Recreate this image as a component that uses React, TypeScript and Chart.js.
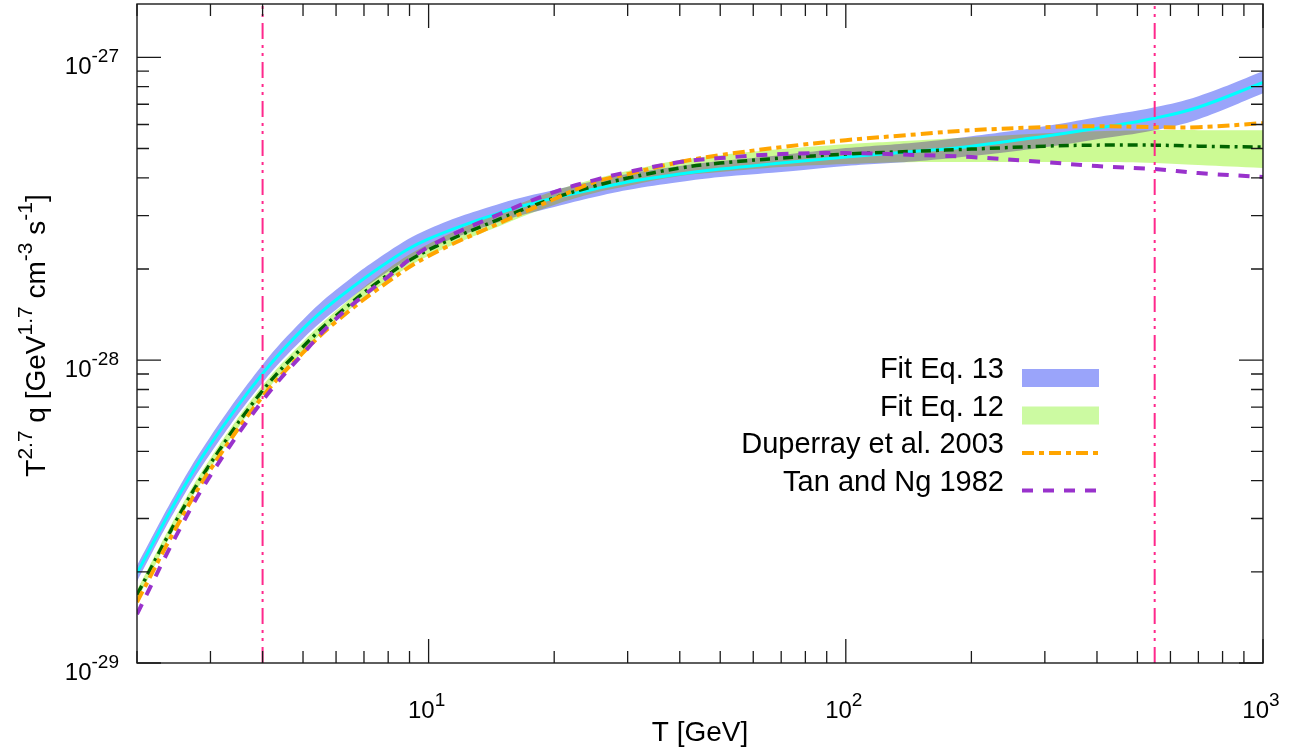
import React, { useEffect, useRef } from "react";
import { Chart, registerables } from "chart.js";

// ---------------- data (values in units of 1e-29) ----------------
const UNIT = 1e-29;
const T_GEV = [2, 2.5, 3, 4, 5, 6, 8, 10, 15, 20, 25, 30, 40, 50, 70, 100, 150, 200, 300, 400, 550, 700, 1000];

const eq13 = [1.98, 3.5, 5.27, 9.03, 12.69, 15.83, 21.15, 25.14, 30.85, 34.31, 36.73, 38.74, 41.16, 42.75, 44.74, 46.83, 49.01, 50.9, 54.92, 58.35, 62.95, 68.43, 82.72];
const eq13Hi = [2.1, 3.72, 5.6, 9.66, 13.59, 17.07, 22.82, 27.12, 33.03, 36.46, 39.03, 41.16, 43.74, 45.43, 47.54, 50.14, 52.47, 54.92, 59.24, 63.43, 68.43, 74.39, 89.92];
const eq13Lo = [1.86, 3.29, 4.92, 8.43, 11.77, 14.67, 19.61, 23.3, 28.82, 32.05, 34.57, 36.46, 38.74, 40.24, 41.79, 43.74, 45.43, 47.19, 50.52, 53.68, 57.47, 62.48, 76.1];

const eq12 = [1.68, 3.0, 4.56, 7.93, 11.07, 14.02, 19.17, 23.13, 29.48, 34.31, 37.58, 39.93, 43.08, 44.74, 46.48, 47.91, 49.01, 49.76, 50.9, 51.29, 51.29, 50.9, 50.52];
const eq12Hi = [1.74, 3.12, 4.74, 8.24, 11.51, 14.56, 20.05, 24.2, 31.09, 36.18, 39.63, 42.11, 45.78, 47.54, 49.76, 51.68, 53.27, 54.5, 56.18, 57.04, 57.47, 57.47, 57.47];
const eq12Lo = [1.61, 2.89, 4.39, 7.64, 10.67, 13.49, 18.31, 22.1, 27.96, 32.54, 35.64, 37.58, 40.54, 41.79, 43.41, 44.41, 45.09, 45.09, 45.09, 45.09, 44.74, 44.07, 43.08];

const duperray = [1.59, 2.85, 4.36, 7.58, 10.59, 13.4, 18.17, 22.1, 28.6, 34.05, 38.74, 41.16, 45.09, 47.54, 50.52, 53.27, 55.76, 57.47, 58.8, 59.24, 58.8, 58.8, 60.61];
const tanNg = [1.45, 2.68, 4.16, 7.35, 10.51, 13.7, 18.88, 23.66, 30.62, 35.91, 39.33, 41.79, 45.09, 46.48, 47.91, 48.27, 47.54, 46.83, 45.09, 43.74, 42.75, 41.48, 40.24];

const vLines = [4, 550];

const X_MIN = 2;
const X_MAX = 1000;
const Y_MIN = 1e-29;
const Y_MAX = 1.5e-27;

const xMajorTicks = [10, 100, 1000];
const xMinorTicks = [2, 3, 4, 5, 6, 7, 8, 9, 20, 30, 40, 50, 60, 70, 80, 90, 200, 300, 400, 500, 600, 700, 800, 900];
const yMajorTicks = [1e-29, 1e-28, 1e-27];
const yMinorTicks = [2e-29, 3e-29, 4e-29, 5e-29, 6e-29, 7e-29, 8e-29, 9e-29, 2e-28, 3e-28, 4e-28, 5e-28, 6e-28, 7e-28, 8e-28, 9e-28];
const xLabelValues = [10, 100, 1000];
const xLabelExps = ["1", "2", "3"];
const yLabelValues = [1e-29, 1e-28, 1e-27];
const yLabelExps = ["-29", "-28", "-27"];

const legendLabels = ["Fit Eq. 13", "Fit Eq. 12", "Duperray et al. 2003", "Tan and Ng 1982"];

// ---------------- styles ----------------
const FONT = '"Liberation Sans", Arial, Helvetica, sans-serif';
const BLUE_BAND = "rgb(154,164,250)";
const GREEN_BAND = "rgb(204,250,148)";
const CYAN = "#00ffff";
const DKGREEN = "#006400";
const ORANGE = "#ffa500";
const PURPLE = "#9932cc";
const PINK = "rgb(255,40,140)";

const ORANGE_DASH = [12, 5, 5, 5];
const PURPLE_DASH = [11, 10];
const GREEN_DASH = [10, 5, 3, 5];
const PINK_DASH = [16, 6, 3, 5, 3, 6];

const compositePlugin = {
  id: "bandComposite",
  beforeDatasetDraw(chart: any, args: any) {
    const ds = chart.data.datasets[args.index];
    if (ds && ds.compositeOp) {
      chart.ctx.save();
      chart.ctx.globalCompositeOperation = ds.compositeOp;
    }
  },
  afterDatasetDraw(chart: any, args: any) {
    const ds = chart.data.datasets[args.index];
    if (ds && ds.compositeOp) chart.ctx.restore();
  },
};
Chart.register(compositePlugin as any);
Chart.register(...registerables);

type Part = { text: string; sup?: boolean };

function drawRich(ctx: CanvasRenderingContext2D, parts: Part[], x: number, y: number, align: string, base: number, sup: number, rise: number) {
  const widths: number[] = [];
  let total = 0;
  parts.forEach((p) => {
    ctx.font = `${p.sup ? sup : base}px ${FONT}`;
    const w = ctx.measureText(p.text).width;
    widths.push(w);
    total += w;
  });
  let cx = align === "right" ? x - total : align === "center" ? x - total / 2 : x;
  ctx.textAlign = "left";
  ctx.textBaseline = "alphabetic";
  parts.forEach((p, i) => {
    ctx.font = `${p.sup ? sup : base}px ${FONT}`;
    ctx.fillText(p.text, cx, p.sup ? y - rise : y);
    cx += widths[i];
  });
}

const decorPlugin = {
  id: "decor",
  afterDraw(chart: any) {
    const ctx: CanvasRenderingContext2D = chart.ctx;
    const xs = chart.scales.x;
    const ys = chart.scales.y;
    const { left, right, top, bottom } = chart.chartArea;
    ctx.save();
    // frame
    ctx.strokeStyle = "#1a1a1a";
    ctx.lineWidth = 1.4;
    ctx.strokeRect(left, top, right - left, bottom - top);
    // ticks
    ctx.lineWidth = 1.3;
    ctx.beginPath();
    const MAJ = 24;
    const MIN = 12;
    xMajorTicks.forEach((v) => {
      const p = xs.getPixelForValue(v);
      ctx.moveTo(p, bottom); ctx.lineTo(p, bottom - MAJ);
      ctx.moveTo(p, top); ctx.lineTo(p, top + MAJ);
    });
    xMinorTicks.forEach((v) => {
      const p = xs.getPixelForValue(v);
      ctx.moveTo(p, bottom); ctx.lineTo(p, bottom - MIN);
      ctx.moveTo(p, top); ctx.lineTo(p, top + MIN);
    });
    yMajorTicks.forEach((v) => {
      const p = ys.getPixelForValue(v);
      ctx.moveTo(left, p); ctx.lineTo(left + MAJ, p);
      ctx.moveTo(right, p); ctx.lineTo(right - MAJ, p);
    });
    yMinorTicks.forEach((v) => {
      const p = ys.getPixelForValue(v);
      ctx.moveTo(left, p); ctx.lineTo(left + MIN, p);
      ctx.moveTo(right, p); ctx.lineTo(right - MIN, p);
    });
    ctx.stroke();

    // tick labels
    ctx.fillStyle = "#000";
    xLabelValues.forEach((v, i) => {
      const p = xs.getPixelForValue(v);
      drawRich(ctx, [{ text: "10" }, { text: xLabelExps[i], sup: true }], p - 2, 718, "center", 24, 19, 12);
    });
    yLabelValues.forEach((v, i) => {
      const p = ys.getPixelForValue(v);
      drawRich(ctx, [{ text: "10" }, { text: yLabelExps[i], sup: true }], 119, p + 17, "right", 24, 19, 12);
    });

    // axis titles
    drawRich(ctx, [{ text: "T [GeV]" }], (left + right) / 2, 741, "center", 28, 20, 12);
    ctx.save();
    ctx.translate(45, (top + bottom) / 2 + 2);
    ctx.rotate(-Math.PI / 2);
    drawRich(
      ctx,
      [
        { text: "T" }, { text: "2.7", sup: true }, { text: " q [GeV" }, { text: "1.7", sup: true },
        { text: " cm" }, { text: "-3", sup: true }, { text: " s" }, { text: "-1", sup: true }, { text: "]" },
      ],
      0, 0, "center", 28, 21, 13
    );
    ctx.restore();

    // legend
    const textRight = 1004;
    const sx0 = 1022;
    const sx1 = 1099;
    legendLabels.forEach((lab, i) => {
      const by = 378 + i * 37.5;
      ctx.fillStyle = "#000";
      drawRich(ctx, [{ text: lab }], textRight, by, "right", 29, 20, 10);
      if (i === 0 || i === 1) {
        ctx.fillStyle = i === 0 ? BLUE_BAND : "rgb(204,250,162)";
        ctx.fillRect(sx0, by - 9, sx1 - sx0, 18);
      } else {
        ctx.strokeStyle = i === 2 ? ORANGE : PURPLE;
        ctx.lineWidth = 4;
        ctx.setLineDash(i === 2 ? ORANGE_DASH : PURPLE_DASH);
        ctx.beginPath();
        ctx.moveTo(sx0, by);
        ctx.lineTo(sx1, by);
        ctx.stroke();
        ctx.setLineDash([]);
      }
    });
    ctx.restore();
  },
};

function series(vals: number[]) {
  return T_GEV.map((t, i) => ({ x: t, y: vals[i] * UNIT }));
}

export default function App() {
  const canvasRef = useRef<HTMLCanvasElement | null>(null);

  useEffect(() => {
    if (!canvasRef.current) return;
    const common = { pointRadius: 0, tension: 0.4, clip: 0 };
    const datasets: any[] = [
      { ...common, label: "eq13Hi", data: series(eq13Hi), borderWidth: 0, borderColor: "rgba(0,0,0,0)", backgroundColor: BLUE_BAND, fill: "+1", order: 10 },
      { ...common, label: "eq13Lo", data: series(eq13Lo), borderWidth: 0, borderColor: "rgba(0,0,0,0)", fill: false, order: 10 },
      { ...common, label: "eq12Hi", data: series(eq12Hi), borderWidth: 0, borderColor: "rgba(0,0,0,0)", backgroundColor: GREEN_BAND, fill: "+1", order: 9, compositeOp: "darken" },
      { ...common, label: "eq12Lo", data: series(eq12Lo), borderWidth: 0, borderColor: "rgba(0,0,0,0)", fill: false, order: 9 },
      { ...common, label: legendLabels[0], data: series(eq13), borderColor: CYAN, borderWidth: 3, fill: false, order: 5 },
      { ...common, label: legendLabels[1], data: series(eq12), borderColor: DKGREEN, borderWidth: 3.5, borderDash: GREEN_DASH, fill: false, order: 4 },
      { ...common, label: legendLabels[2], data: series(duperray), borderColor: ORANGE, borderWidth: 4, borderDash: ORANGE_DASH, fill: false, order: 3 },
      { ...common, label: legendLabels[3], data: series(tanNg), borderColor: PURPLE, borderWidth: 4, borderDash: PURPLE_DASH, fill: false, order: 2 },
      ...vLines.map((v) => ({
        label: "limit",
        data: [{ x: v, y: Y_MIN }, { x: v, y: Y_MAX }],
        borderColor: PINK,
        borderWidth: 2,
        borderDash: PINK_DASH,
        pointRadius: 0,
        tension: 0,
        fill: false,
        order: 1,
        clip: 0,
      })),
    ];

    const chart = new Chart(canvasRef.current, {
      type: "line",
      data: { datasets },
      options: {
        responsive: false,
        maintainAspectRatio: false,
        animation: false,
        layout: { padding: { top: 4, right: 26, left: 0, bottom: 0 } },
        plugins: {
          legend: { display: false },
          tooltip: { enabled: false },
          filler: { propagate: false },
        },
        scales: {
          x: {
            type: "logarithmic",
            min: X_MIN,
            max: X_MAX,
            ticks: { display: false },
            grid: { display: false },
            border: { display: false },
            afterFit: (s: any) => { s.height = 86; },
          },
          y: {
            type: "logarithmic",
            min: Y_MIN,
            max: Y_MAX,
            ticks: { display: false },
            grid: { display: false },
            border: { display: false },
            afterFit: (s: any) => { s.width = 137; },
          },
        },
      } as any,
      plugins: [decorPlugin as any],
    });
    return () => chart.destroy();
  }, []);

  return (
    <div style={{ position: "fixed", left: 0, top: 0, width: 1289, height: 749, background: "#fff" }}>
      <canvas ref={canvasRef} width={1289} height={749} style={{ display: "block", width: 1289, height: 749 }} />
    </div>
  );
}
